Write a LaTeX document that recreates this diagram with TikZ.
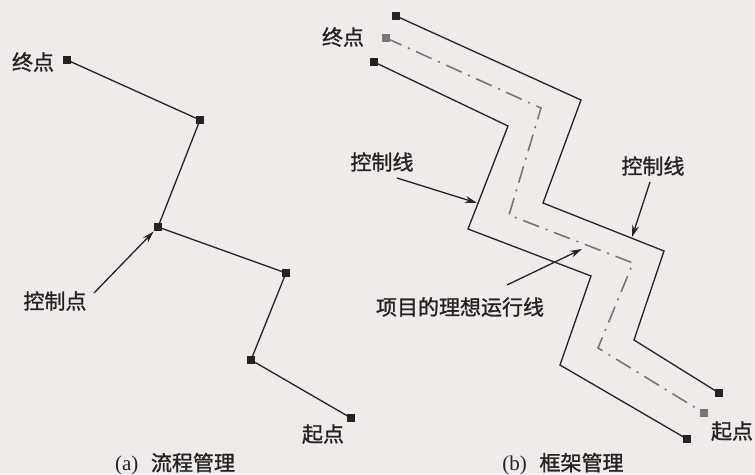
\documentclass[tikz,border=0pt]{standalone}
\usepackage{fontspec}
\setmainfont{Liberation Serif}
\newfontfamily\cjk[FakeBold=1.2]{Noto Sans CJK SC}
\usetikzlibrary{arrows.meta}
\definecolor{bgc}{HTML}{EEEBE9}
\definecolor{ink}{HTML}{262224}
\definecolor{dgray}{HTML}{7A7676}
\begin{document}
\begin{tikzpicture}[x=1pt,y=-1pt,
  mk/.style={fill=ink,minimum size=8.5pt,inner sep=0pt},
  mkg/.style={fill=dgray,minimum size=8.5pt,inner sep=0pt},
  lbl/.style={font=\cjk\fontsize{21}{23}\selectfont,text=ink,inner sep=1pt},
  captxt/.style={font=\fontsize{21}{23}\selectfont,text=ink,inner sep=1pt},
  ln/.style={draw=ink,line width=1.3pt},
  ideal/.style={draw=dgray,line width=1.6pt,dash pattern=on 17pt off 7pt on 2pt off 7pt},
  arr/.style={draw=ink,line width=1.3pt,-{Stealth[length=12pt,width=7pt]}}]
\fill[bgc] (0,0) rectangle (755,474);
\useasboundingbox (0,0) rectangle (755,474);
% ---- panel (a)
\node[mk] (a1) at (67,60) {};
\node[mk] (a2) at (200,120) {};
\node[mk] (a3) at (158,227) {};
\node[mk] (a4) at (286,273) {};
\node[mk] (a5) at (251,360) {};
\node[mk] (a6) at (351,418) {};
\draw[ln] (a1.center) -- (a2.center) -- (a3.center) -- (a4.center) -- (a5.center) -- (a6.center);
\node[lbl] (ta1) at (33,62) {终点};
\node[lbl] (ta3) at (55,301) {控制点};
\node[lbl] (ta6) at (323,434) {起点};
\coordinate (s3) at (94,293);
\draw[arr] (s3) -- (a3);
\node[captxt] (capa) at (175,464) {(a)\hspace{0.6em}{\cjk 流程管理}};
% ---- panel (b)
\node[mk] (u1) at (396,16) {};
\coordinate (u2) at (581,100);
\coordinate (u3) at (543,203);
\coordinate (u4) at (664,251);
\coordinate (u5) at (634,340);
\node[mk] (u6) at (719,393) {};
\draw[ln] (u1.center) -- (u2) -- (u3) -- (u4) -- (u5) -- (u6.center);
\node[mk] (d1) at (374,62) {};
\coordinate (d2) at (508,126);
\coordinate (d3) at (468,229);
\coordinate (d4) at (591,276);
\coordinate (d5) at (560,365);
\node[mk] (d6) at (687,439) {};
\draw[ln] (d1.center) -- (d2) -- (d3) -- (d4) -- (d5) -- (d6.center);
\node[mkg] (m1) at (386,38) {};
\coordinate (m2) at (541,108);
\coordinate (m3) at (509,215);
\coordinate (m4) at (633,263);
\coordinate (m5) at (598,348);
\node[mkg] (m6) at (704,413) {};
\draw[ideal] (m1.center) -- (m2) -- (m3) -- (m4) -- (m5) -- (m6.center);
\node[lbl] (tb1) at (343,37) {终点};
\node[lbl] (tb6) at (732,431) {起点};
\node[lbl] (cl1) at (382,162) {控制线};
\node[lbl] (cl2) at (653,166) {控制线};
\node[lbl] (il) at (460,307) {项目的理想运行线};
\coordinate (cl1s) at (397,178);
\coordinate (cl2s) at (650,182);
\coordinate (ils) at (507,285);
\coordinate (cl1t) at (477,203);
\coordinate (cl2t) at (632,237);
\coordinate (ilt) at (582,249);
\draw[arr] (cl1s) -- (cl1t);
\draw[arr] (cl2s) -- (cl2t);
\draw[arr] (ils) -- (ilt);
\node[captxt] (capb) at (563,464) {(b)\hspace{0.6em}{\cjk 框架管理}};
\end{tikzpicture}
\end{document}
